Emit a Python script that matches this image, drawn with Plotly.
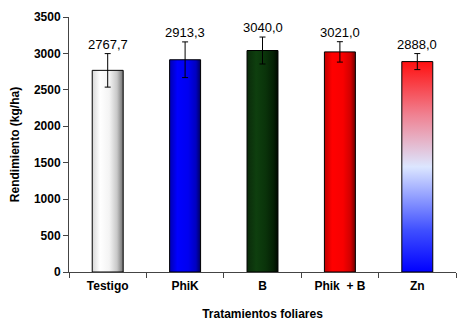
import plotly.graph_objects as go

categories = ["Testigo", "PhiK", "B", "Phik  + B", "Zn"]
values = [2767.7, 2913.3, 3040.0, 3021.0, 2888.0]
errors = [230, 245, 185, 140, 110]
labels = ["2767,7", "2913,3", "3040,0", "3021,0", "2888,0"]
yticks = [0, 500, 1000, 1500, 2000, 2500, 3000, 3500]

gradients = [
    ("horizontal", [[0, "#d8d8d8"], [0.25, "#ffffff"], [0.55, "#f4f4f4"], [0.8, "#c8c8c8"], [1, "#707070"]]),
    ("horizontal", [[0, "#0000b0"], [0.25, "#0000ff"], [0.6, "#0000f0"], [0.85, "#0000c0"], [1, "#000060"]]),
    ("horizontal", [[0, "#0a2a0a"], [0.3, "#0e3f0e"], [0.6, "#0a330a"], [0.85, "#052005"], [1, "#000800"]]),
    ("horizontal", [[0, "#c00000"], [0.25, "#ff0000"], [0.6, "#f80000"], [0.85, "#d00000"], [1, "#700000"]]),
    ("vertical", [[0, "#0000ff"], [0.2, "#4050ff"], [0.5, "#dce6ff"], [0.75, "#f08090"], [1, "#ff1010"]]),
]

half = 0.2
fig = go.Figure()
for i, (v, (gtype, cs)) in enumerate(zip(values, gradients)):
    xs = [i - half, i + half, i + half, i - half, i - half]
    ys = [0, 0, v, v, 0]
    fig.add_trace(go.Scatter(
        x=xs, y=ys, mode="lines", fill="toself",
        line=dict(color="#000000", width=1),
        fillgradient=dict(type=gtype, colorscale=cs),
        hoverinfo="skip", showlegend=False,
    ))

fig.add_trace(go.Scatter(
    x=list(range(len(values))), y=values, mode="markers",
    marker=dict(size=1, opacity=0),
    error_y=dict(type="data", array=errors, color="#000000", thickness=1, width=3),
    showlegend=False,
))

for i, (v, e, t) in enumerate(zip(values, errors, labels)):
    fig.add_annotation(x=i, y=v + e, text=t, showarrow=False, yanchor="bottom",
                       yshift=0, font=dict(family="Liberation Sans, Arial", size=13, color="#000"))

fig.update_layout(
    width=467, height=330,
    margin=dict(l=69, r=11, t=17, b=58),
    plot_bgcolor="white", paper_bgcolor="white",
    font=dict(family="Liberation Sans, Arial", size=12, color="#000"),
    xaxis=dict(
        range=[-0.5, 4.5], tickvals=list(range(len(categories))), ticktext=categories,
        ticks="", showgrid=False, zeroline=False,
        showline=True, linecolor="#444", linewidth=1, ticklabelstandoff=3,
        tickfont=dict(family="Liberation Sans, Arial", size=12, color="#000", weight="bold"),
        minor=dict(tick0=-0.5, dtick=1, ticks="outside", ticklen=5, tickcolor="#444"),
        title=dict(text="<b>Tratamientos foliares</b>", font=dict(size=12), standoff=17),
    ),
    yaxis=dict(
        range=[0, 3500], tickvals=yticks, ticks="outside", ticklen=5, tickcolor="#444",
        showgrid=False, zeroline=False, showline=True, linecolor="#444", linewidth=1,
        tickfont=dict(family="Liberation Sans, Arial", size=12, color="#000", weight="bold"),
        title=dict(text="<b>Rendimiento (kg/ha)</b>", font=dict(size=12), standoff=11),
    ),
)

fig.write_html("out.html")
